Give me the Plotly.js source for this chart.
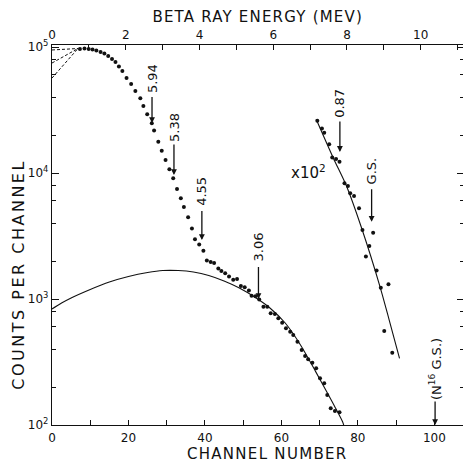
<!DOCTYPE html>
<html><head><meta charset="utf-8">
<script src="https://cdn.plot.ly/plotly-3.0.1.min.js"></script>
<style>html,body{margin:0;padding:0;background:#fff}#chart{width:466px;height:462px}</style>
</head><body><div id="chart"></div>
<script>
// Main beta spectrum (channel, counts per channel)
const mainChannel = [7.3,8.5,9.6,10.6,11.6,12.7,13.7,14.7,15.7,16.6,17.5,18.4,19.5,20.7,21.8,23.1,23.9,24.9,26.1,26.7,27.8,28.7,29.7,30.7,31.7,32.7,33.7,34.5,35.6,36.6,37.4,38.5,39.6,40.5,41.5,42.4,43.5,44.3,45.3,46.3,47.4,48.4,49.4,50.4,51.5,52.2,53.2,54.2,55.3,56.3,57.2,58.3,59.2,60.2,61.2,62.3,63.1,64.2,65.3,66.2,67.0,68.1,69.1,70.1,71.2,72.0,72.9,74.0,75.2];
const mainCounts = [96400,97300,96400,95500,93800,91200,88700,84900,80400,76100,70000,64500,56800,50800,44800,39200,34000,29300,24800,21700,17700,15000,12700,10700,9080,7460,6300,5370,4450,3630,2980,2710,2410,2020,1970,1930,1750,1670,1600,1510,1420,1440,1270,1240,1170,1060,1050,991,869,869,770,760,703,649,585,550,518,458,394,353,332,312,282,235,214,173,136,129,126];

// High-energy part, plotted x10^2
const highChannel = [69.4,70.6,71.2,72.5,73.3,74.3,75.2,76.5,77.4,78.0,79.0,80.3,81.2,82.1,83.0,84.0,84.9,86.0,86.9,88.0,89.0];
const highCounts = [26000,22600,20900,16900,13300,12900,12300,8280,7880,6900,6560,5240,3530,2170,2640,3360,1680,1230,557,1310,375];
const highFitChannel = [69.1,73.6,77.1,81.0,85.8,88.2,90.9];
const highFitCounts = [26700,13100,7780,3640,1250,681,338];

// Smooth spectrum curve
const curveChannel = [0,2.5,5,10,15,20,25,29,33,37,41,45,49,53,57,61,65,69,72,74,76,76.3];
const curveCounts = [833,929,1019,1190,1364,1509,1622,1682,1682,1637,1537,1390,1223,1037,849,645,432,264,180,139,106,100];

// Low-energy extrapolations (dashed)
const extrapStartCounts = [94700,74600,56700];
const extrapEnd = {channel: 6.8, counts: 97300};

// Energy level markers (arrow tips) and their labels
const markerLabels = ['5.94','5.38','4.55','3.06','0.87','G.S.','(N<sup>16</sup> G.S.)'];
const markerChannel = [26.16,31.9,39.2,54.0,75.3,83.6,100.2];
const markerCounts = [24900,9640,2940,1000,14700,4100,100];

// Axis ticks
const xTickVals = [0,20,40,60,80,100];
const xMinorVals = [10,30,50,70,90];
const eTickVals = [0,2,4,6,8,10];
const eMinorVals = [1,3,5,7,9,11];
const yTickVals = [100,1000,10000,100000];
const yTickText = ['10<sup>2</sup>','10<sup>3</sup>','10<sup>4</sup>','10<sup>5</sup>'];
const yMinorVals = [200,400,600,800,2000,4000,6000,8000,20000,40000,60000,80000];

const CH_PER_MEV = 9.644;
const X_MAX = 107.5;
const INK = '#111';
const FONT = 'DejaVu Sans';

// label offsets (pixels above the arrow tip) and gaps
const labelRise = [-44,-48,-49,-52,-49,-51,-56];
const labelGap = [3,2.5,5,5,3.5,4.5,1];

const traces = [];
extrapStartCounts.forEach(c => traces.push({
  x:[0, extrapEnd.channel], y:[c, extrapEnd.counts], mode:'lines', type:'scatter',
  line:{color:INK, width:1, dash:'3px,2px'}, hoverinfo:'skip', showlegend:false
}));
traces.push({x:curveChannel, y:curveCounts, mode:'lines', type:'scatter',
  line:{color:INK, width:1.1, shape:'spline', smoothing:0.8}, showlegend:false});
traces.push({x:highFitChannel, y:highFitCounts, mode:'lines', type:'scatter',
  line:{color:INK, width:1.1, shape:'spline', smoothing:0.8}, showlegend:false});
traces.push({x:mainChannel, y:mainCounts, mode:'markers', type:'scatter',
  marker:{color:INK, size:4}, showlegend:false});
traces.push({x:highChannel, y:highCounts, mode:'markers', type:'scatter',
  marker:{color:INK, size:4}, showlegend:false});
// invisible traces that carry the secondary axes
traces.push({x:[0], y:[100], xaxis:'x2', yaxis:'y', mode:'markers', marker:{opacity:0}, hoverinfo:'skip', showlegend:false});
traces.push({x:[0], y:[100], xaxis:'x', yaxis:'y2', mode:'markers', marker:{opacity:0}, hoverinfo:'skip', showlegend:false});

const annotations = [];
markerLabels.forEach((t,i) => {
  annotations.push({x:markerChannel[i], y:Math.log10(markerCounts[i]), xref:'x', yref:'y',
    text:t, textangle:-90, font:{family:FONT, size:13, color:INK},
    showarrow:true, arrowhead:2, arrowsize:0.9, arrowwidth:1.3, arrowcolor:INK,
    ax:0, ay:labelRise[i], standoff:0, startstandoff:labelGap[i], borderpad:0});
});
annotations.push({x:67.2, y:Math.log10(10200), xref:'x', yref:'y', text:'x10<sup>2</sup>',
  showarrow:false, xanchor:'center', yanchor:'middle', font:{family:FONT, size:15, color:INK}});
annotations.push({x:-0.0827, y:0.397, xref:'paper', yref:'paper', text:'COUNTS PER CHANNEL',
  textangle:-90, showarrow:false, xanchor:'center', yanchor:'middle', borderpad:0, font:{family:FONT, size:16, color:INK}});
annotations.push({x:0.523, y:-0.0763, xref:'paper', yref:'paper', text:'CHANNEL NUMBER',
  showarrow:false, xanchor:'center', yanchor:'middle', borderpad:0, font:{family:FONT, size:15, color:INK}});
annotations.push({x:0.501, y:1.0737, xref:'paper', yref:'paper', text:'BETA RAY ENERGY (MEV)',
  showarrow:false, xanchor:'center', yanchor:'middle', borderpad:0, font:{family:FONT, size:15, color:INK}});

const tickFont = {family:FONT, size:12, color:INK};
const minorTicks = vals => ({tickmode:'array', tickvals:vals, ticks:'inside', ticklen:5, tickcolor:INK, tickwidth:1, showgrid:false});
const layout = {
  width:466, height:462,
  margin:{l:52, r:3, t:45, b:37, pad:0},
  paper_bgcolor:'#fff', plot_bgcolor:'#fff',
  showlegend:false,
  xaxis:{range:[0,X_MAX], tickmode:'array', tickvals:xTickVals,
    ticks:'inside', ticklen:5, tickwidth:1, tickcolor:INK, showline:true, linecolor:INK, linewidth:1.2,
    showgrid:false, zeroline:false, tickfont:tickFont, ticklabelstandoff:1, minor:minorTicks(xMinorVals)},
  xaxis2:{overlaying:'x', side:'top', range:[0, X_MAX/CH_PER_MEV], tickmode:'array', tickvals:eTickVals,
    ticks:'inside', ticklen:5, tickwidth:1, tickcolor:INK, showline:true, linecolor:INK, linewidth:1.2,
    showgrid:false, zeroline:false, tickfont:tickFont, ticklabelstandoff:0, minor:minorTicks(eMinorVals)},
  yaxis:{type:'log', range:[2, 2+380/126], tickmode:'array', tickvals:yTickVals, ticktext:yTickText,
    ticks:'inside', ticklen:7, tickwidth:1, tickcolor:INK, showline:true, linecolor:INK, linewidth:1.2,
    showgrid:false, zeroline:false, tickfont:tickFont,
    minor:{tickmode:'array', tickvals:yMinorVals, ticks:'inside', ticklen:4, tickcolor:INK, tickwidth:1, showgrid:false}},
  yaxis2:{type:'log', overlaying:'y', side:'right', range:[2, 2+380/126], tickmode:'array', tickvals:yTickVals,
    showticklabels:false, ticks:'inside', ticklen:6, tickwidth:1, tickcolor:INK, showline:false, showgrid:false, zeroline:false,
    minor:{tickmode:'array', tickvals:yMinorVals, ticks:'inside', ticklen:3, tickcolor:INK, tickwidth:1, showgrid:false}},
  annotations:annotations
};
Plotly.newPlot('chart', traces, layout, {staticPlot:true, displayModeBar:false}).then(() => {
  const spacing = {'COUNTS PER CHANNEL':'2.5px', 'CHANNEL NUMBER':'1.3px', 'BETA RAY ENERGY (MEV)':'1.2px'};
  document.querySelectorAll('.annotation-text').forEach(el => {
    const s = spacing[el.textContent];
    if (s) el.style.letterSpacing = s;
  });
});
</script></body></html>
